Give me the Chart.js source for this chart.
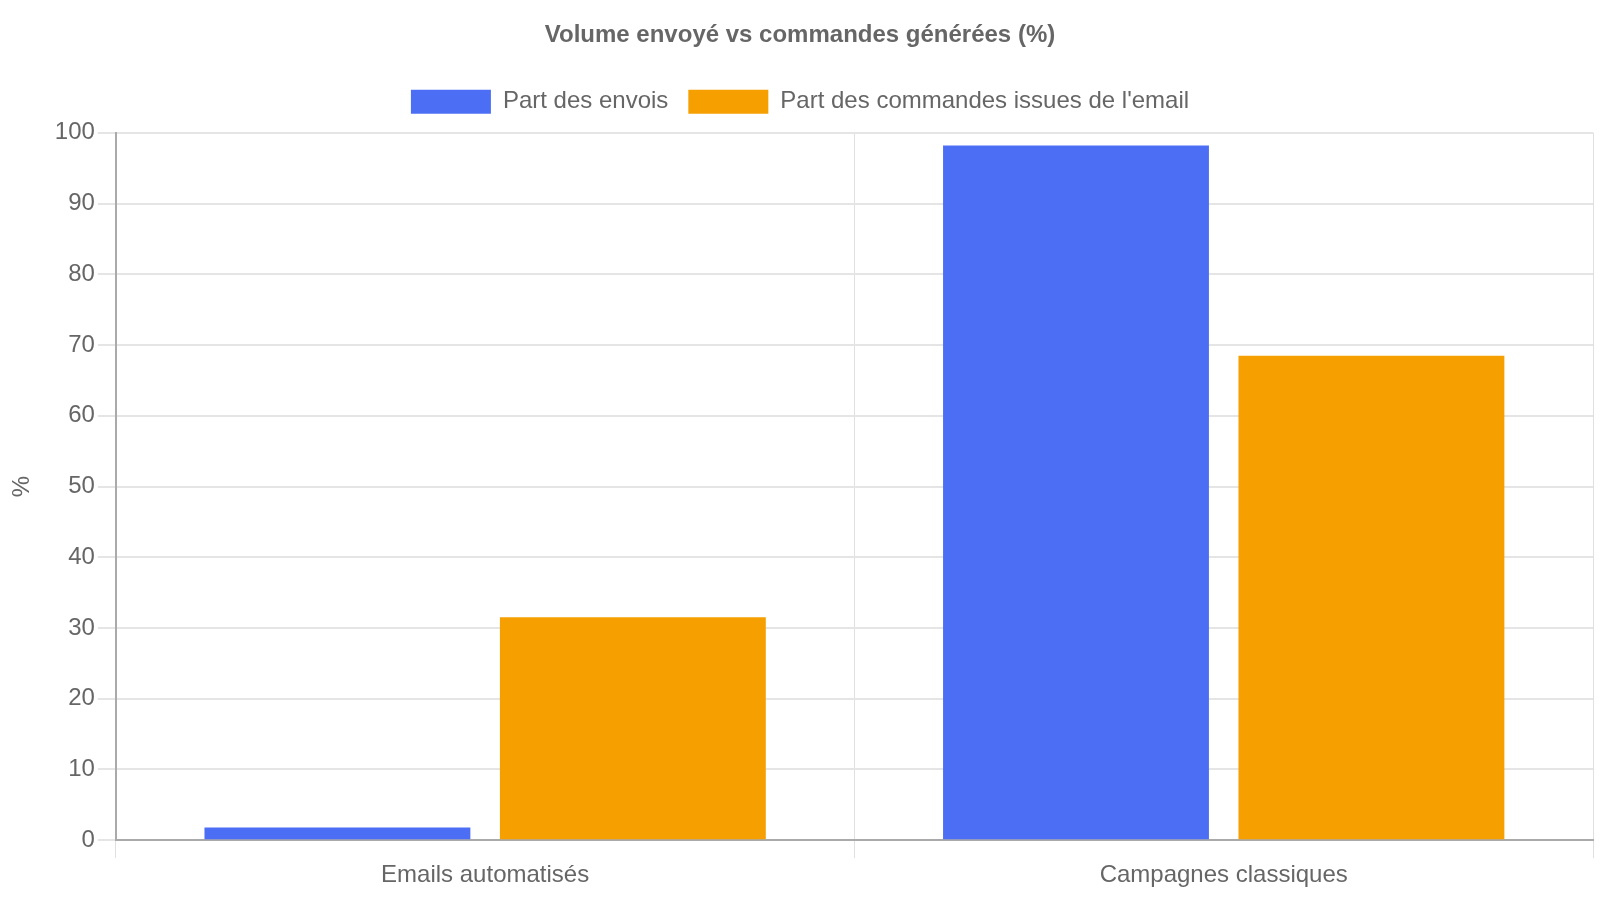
<!DOCTYPE html>
<html>
<head>
<meta charset="utf-8">
<script src="https://cdn.jsdelivr.net/npm/chart.js@4"></script>
<style>
html,body{margin:0;padding:0;background:#fff;}
#wrap{width:1600px;height:900px;}
</style>
</head>
<body>
<div id="wrap"><canvas id="c" width="1600" height="900"></canvas></div>
<script>
const categories = ["Emails automatisés", "Campagnes classiques"];
const partEnvois = [1.8, 98.2];
const partCommandes = [31.5, 68.5];
const seriesLabels = ["Part des envois", "Part des commandes issues de l'email"];
const chartTitle = "Volume envoyé vs commandes générées (%)";
const yTitle = "%";

Chart.defaults.font.family = "'Liberation Sans', Arial, sans-serif";
Chart.defaults.color = "#666";

const legendMargin = {
  id: 'legendMargin',
  beforeInit(chart) {
    const origFit = chart.legend.fit;
    chart.legend.fit = function () {
      origFit.bind(chart.legend)();
      this.height += 9;
    };
  }
};

new Chart(document.getElementById('c'), {
  type: 'bar',
  data: {
    labels: categories,
    datasets: [
      { label: seriesLabels[0], data: partEnvois, backgroundColor: '#4c6ef5', borderWidth: 0 },
      { label: seriesLabels[1], data: partCommandes, backgroundColor: '#f59f00', borderWidth: 0 }
    ]
  },
  plugins: [legendMargin],
  options: {
    responsive: false,
    animation: false,
    devicePixelRatio: 1,
    layout: { padding: { left: 7, right: 7, top: 1, bottom: 7 } },
    plugins: {
      title: {
        display: true, text: chartTitle, color: '#666',
        font: { size: 24, weight: 'bold' }, padding: 20
      },
      legend: {
        labels: { boxWidth: 80, boxHeight: 24, padding: 20, font: { size: 24 }, color: '#666' }
      },
      tooltip: { enabled: false }
    },
    scales: {
      x: {
        grid: { color: '#e0e0e0', tickLength: 18 },
        border: { color: '#aaaaaa', width: 2 },
        ticks: { font: { size: 24 }, color: '#666', padding: 3 }
      },
      y: {
        min: 0, max: 100,
        ticks: { stepSize: 10, font: { size: 24 }, color: '#666', padding: 3 },
        grid: { color: '#e5e5e5', tickLength: 18, lineWidth: 2 },
        border: { color: '#aaaaaa', width: 2 },
        title: { display: true, text: yTitle, font: { size: 24 }, color: '#666', padding: { top: 1, bottom: 15 } }
      }
    }
  }
});
</script>
</body>
</html>
